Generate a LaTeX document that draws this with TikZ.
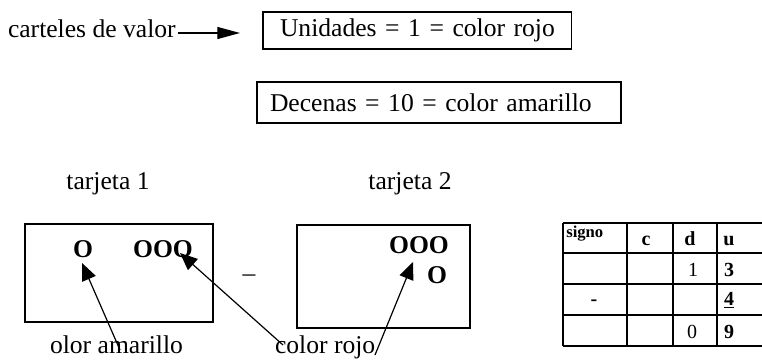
\documentclass[tikz,border=0pt]{standalone}
\usepackage{fontspec}
\setmainfont{Liberation Serif}
\usetikzlibrary{arrows.meta}
\begin{document}
\begin{tikzpicture}[x=0.75pt,y=-0.75pt,
  txt/.style={font=\fontsize{19.2}{23}\selectfont, inner sep=0pt, outer sep=0pt},
  bld/.style={font=\fontsize{19.2}{23}\selectfont\bfseries, inner sep=0pt, outer sep=0pt},
  cartel/.style={draw, line width=0.9pt, font=\fontsize{19.2}{23}\selectfont, anchor=west, align=left, outer sep=0pt},
  card/.style={draw, line width=1pt, anchor=north west, outer sep=0pt, inner sep=0pt},
  pointer/.style={line width=0.9pt, -{Triangle[length=13pt,width=11pt]}},
  tab/.style={line width=1pt},
  cell/.style={font=\fontsize{15}{18}\selectfont\bfseries, inner sep=0pt, anchor=base},
  cellr/.style={font=\fontsize{15}{18}\selectfont, inner sep=0pt, anchor=base}
]
\useasboundingbox (0,0) rectangle (762,363);

% value cards
\node[txt, anchor=base west] (cart) at (8,38) {carteles de valor};
\node[cartel, text width=206pt, inner xsep=12.75pt, minimum height=27.75pt] (b1) at (263,30.5) {\mbox{Unidades = 1 = color rojo}};
\node[cartel, text width=253.5pt, inner xsep=9.75pt, minimum height=30.75pt] (b2) at (257,102.5) {\mbox{Decenas = 10 = color amarillo}};
\coordinate (ca) at (178,33);
\coordinate (cb) at (240,33);
\draw[line width=0.9pt, -{Triangle[length=17pt,width=9pt]}] (ca) -- (cb);

% card titles
\node[txt, anchor=base] (t1) at (108,190) {tarjeta 1};
\node[txt, anchor=base] (t2) at (410,190) {tarjeta 2};

% cards
\node[card, minimum width=141pt, minimum height=73.5pt] (c1) at (25,224) {};
\node[card, minimum width=129.75pt, minimum height=77.25pt] (c2) at (297,225) {};
\node[bld, anchor=base] (o1) at (83,257) {O};
\node[bld, anchor=base] (o2) at (163,257) {OOO};
\node[bld, anchor=base] (o3) at (419,253) {OOO};
\node[bld, anchor=base] (o4) at (437,283) {O};
\node[txt] (minus) at (249,278) {–};

% labels and pointers
\node[txt, anchor=base west] (l1) at (50,353) {olor amarillo};
\node[txt, anchor=base west] (l2) at (275,353) {color rojo};
\coordinate (p1) at (120,350);
\coordinate (q1) at (82,263);
\coordinate (p2) at (283,345);
\coordinate (q2) at (180,253);
\coordinate (p3) at (375,355);
\coordinate (q3) at (413,262);
\draw[pointer] (p1) -- (q1);
\draw[pointer] (p2) -- (q2);
\draw[pointer] (p3) -- (q3);

% table
\draw[tab] (563,223) -- (563,346);
\draw[tab] (627,223) -- (627,346);
\draw[tab] (673,223) -- (673,346);
\draw[tab] (717,223) -- (717,346);
\foreach \yy in {223,253,284,315,346} \draw[tab] (563,\yy) -- (762,\yy);
\node[font=\fontsize{12.5}{14}\selectfont\bfseries, inner sep=0pt, anchor=base west] (sg) at (566,237) {signo};
\node[cell] (hc) at (646,245) {c};
\node[cell] (hd) at (690,245) {d};
\node[cell] (hu) at (729,245) {u};
\node[cellr] (r1d) at (693,276) {1};
\node[cell] (r1u) at (729,276) {3};
\node[cell] (r2s) at (594,305) {-};
\node[cell] (r2u) at (729,305) {\underline{4}};
\node[cellr] (r3d) at (692,338) {0};
\node[cell] (r3u) at (729,338) {9};
\end{tikzpicture}
\end{document}
